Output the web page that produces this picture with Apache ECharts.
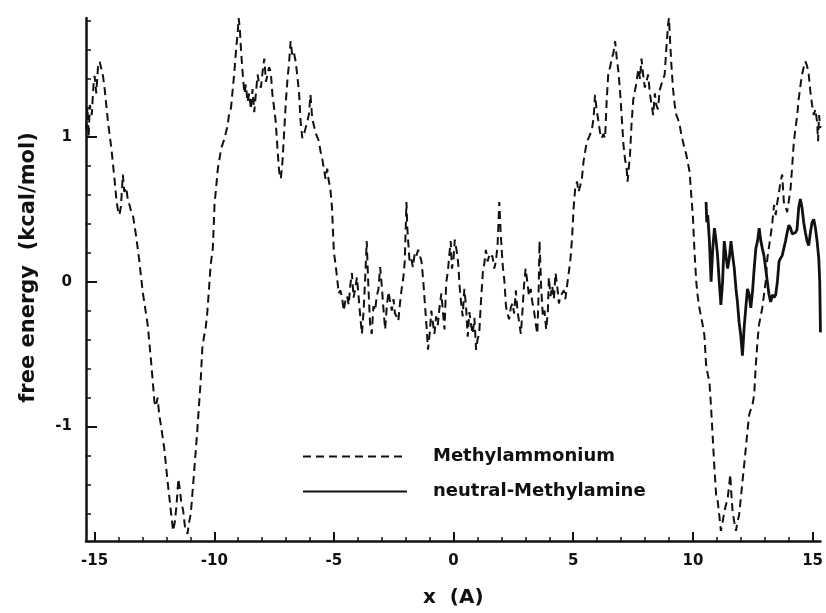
<!DOCTYPE html>
<html>
<head>
<meta charset="utf-8">
<script src="https://cdn.jsdelivr.net/npm/echarts@6/dist/echarts.min.js"></script>
<style>
  html, body { margin: 0; padding: 0; background: #ffffff; }
  #chart { width: 826px; height: 613px; }
</style>
</head>
<body>
<div id="chart"></div>
<script>
// Free energy profile along the channel axis
const methylX = [
  -15.36, -15.30, -15.25, -15.20, -15.12, -15.05, -15.00, -14.93, -14.86, -14.79,
  -14.72, -14.65, -14.58, -14.44, -14.30, -14.17, -14.08, -14.03, -13.96, -13.90,
  -13.82, -13.76, -13.68, -13.60, -13.54, -13.47, -13.40, -13.27, -13.13, -12.99,
  -12.78, -12.64, -12.50, -12.43, -12.37, -12.30, -12.23, -12.09, -11.95, -11.81,
  -11.72, -11.65, -11.58, -11.50, -11.45, -11.38, -11.30, -11.22, -11.12, -11.05,
  -10.98, -10.85, -10.71, -10.57, -10.50, -10.43, -10.36, -10.30, -10.22, -10.15,
  -10.06, -9.99, -9.85, -9.71, -9.57, -9.44, -9.38, -9.30, -9.16, -9.08,
  -9.02, -8.98, -8.93, -8.88, -8.81, -8.74, -8.68, -8.61, -8.54, -8.47,
  -8.40, -8.33, -8.26, -8.19, -8.12, -8.05, -7.98, -7.91, -7.84, -7.78,
  -7.71, -7.64, -7.57, -7.50, -7.43, -7.36, -7.29, -7.22, -7.15, -7.08,
  -7.01, -6.94, -6.88, -6.81, -6.74, -6.67, -6.60, -6.53, -6.46, -6.39,
  -6.32, -6.25, -6.19, -6.12, -6.05, -5.98, -5.91, -5.84, -5.77, -5.70,
  -5.63, -5.56, -5.49, -5.42, -5.35, -5.28, -5.22, -5.15, -5.08, -5.04,
  -5.00, -4.94, -4.87, -4.80, -4.73, -4.66, -4.59, -4.52, -4.45, -4.38,
  -4.32, -4.25, -4.18, -4.11, -4.04, -3.97, -3.90, -3.83, -3.76, -3.70,
  -3.63, -3.56, -3.49, -3.42, -3.35, -3.28, -3.21, -3.14, -3.07, -3.00,
  -2.93, -2.86, -2.79, -2.72, -2.65, -2.58, -2.51, -2.45, -2.38, -2.31,
  -2.24, -2.17, -2.10, -2.04, -1.97, -1.93, -1.89, -1.84, -1.77, -1.70,
  -1.62, -1.55, -1.48, -1.41, -1.34, -1.27, -1.20, -1.13, -1.07, -1.00,
  -0.93, -0.87, -0.80, -0.73, -0.66, -0.59, -0.51, -0.45, -0.38, -0.31,
  -0.24, -0.17, -0.12, -0.07, 0.00, 0.05, 0.11, 0.16, 0.20, 0.25,
  0.31, 0.38, 0.45, 0.52, 0.59, 0.66, 0.73, 0.80, 0.87, 0.94,
  1.00, 1.07, 1.14, 1.22, 1.28, 1.35, 1.42, 1.49, 1.55, 1.62,
  1.70, 1.77, 1.84, 1.91, 1.96, 2.01, 2.06, 2.12, 2.19, 2.25,
  2.32, 2.39, 2.46, 2.53, 2.60, 2.67, 2.74, 2.81, 2.88, 2.94,
  3.01, 3.08, 3.15, 3.22, 3.29, 3.36, 3.43, 3.50, 3.55, 3.59,
  3.66, 3.73, 3.80, 3.87, 3.94, 3.98, 4.05, 4.12, 4.19, 4.26,
  4.33, 4.40, 4.47, 4.54, 4.61, 4.67, 4.74, 4.81, 4.88, 4.95,
  5.02, 5.09, 5.16, 5.22, 5.29, 5.36, 5.43, 5.50, 5.57, 5.64,
  5.71, 5.78, 5.85, 5.91, 5.98, 6.05, 6.12, 6.19, 6.26, 6.33,
  6.40, 6.47, 6.54, 6.61, 6.68, 6.75, 6.82, 6.88, 6.95, 7.02,
  7.10, 7.16, 7.23, 7.27, 7.33, 7.37, 7.44, 7.51, 7.58, 7.65,
  7.72, 7.79, 7.85, 7.92, 7.99, 8.06, 8.13, 8.20, 8.27, 8.34,
  8.41, 8.47, 8.54, 8.61, 8.68, 8.75, 8.82, 8.89, 8.96, 9.00,
  9.05, 9.10, 9.17, 9.24, 9.31, 9.38, 9.45, 9.51, 9.58, 9.65,
  9.72, 9.79, 9.86, 9.93, 10.00, 10.06, 10.14, 10.20, 10.27, 10.34,
  10.41, 10.48, 10.55, 10.62, 10.69, 10.76, 10.83, 10.90, 10.97, 11.04,
  11.10, 11.17, 11.24, 11.31, 11.38, 11.45, 11.52, 11.56, 11.60, 11.66,
  11.73, 11.80, 11.86, 11.93, 12.00, 12.07, 12.14, 12.21, 12.28, 12.35,
  12.42, 12.49, 12.56, 12.63, 12.70, 12.76, 12.83, 12.90, 12.97, 13.04,
  13.11, 13.18, 13.25, 13.32, 13.39, 13.46, 13.53, 13.60, 13.66, 13.73,
  13.80, 13.87, 13.94, 14.01, 14.08, 14.15, 14.22, 14.29, 14.36, 14.42,
  14.49, 14.56, 14.63, 14.70, 14.77, 14.84, 14.91, 14.98, 15.05, 15.12,
  15.19, 15.23, 15.27, 15.33
];
const methylY = [
  1.05, 1.20, 1.00, 1.22, 1.15, 1.35, 1.42, 1.30, 1.48, 1.52,
  1.47, 1.42, 1.33, 1.10, 0.92, 0.71, 0.55, 0.50, 0.46, 0.52,
  0.74, 0.62, 0.65, 0.55, 0.53, 0.48, 0.46, 0.32, 0.14, -0.07,
  -0.30, -0.55, -0.83, -0.86, -0.80, -0.92, -0.99, -1.15, -1.38, -1.59,
  -1.72, -1.66, -1.55, -1.36, -1.42, -1.52, -1.58, -1.70, -1.74, -1.66,
  -1.60, -1.33, -1.03, -0.69, -0.46, -0.38, -0.32, -0.23, -0.05, 0.12,
  0.23, 0.53, 0.78, 0.92, 0.99, 1.08, 1.16, 1.20, 1.45, 1.62,
  1.72, 1.82, 1.74, 1.59, 1.43, 1.30, 1.36, 1.24, 1.30, 1.19,
  1.33, 1.17, 1.30, 1.43, 1.36, 1.34, 1.45, 1.54, 1.38, 1.38,
  1.48, 1.45, 1.29, 1.20, 1.10, 0.92, 0.76, 0.71, 0.83, 1.03,
  1.24, 1.40, 1.50, 1.66, 1.56, 1.58, 1.52, 1.42, 1.31, 1.10,
  0.99, 1.02, 1.03, 1.10, 1.15, 1.29, 1.13, 1.08, 1.03, 1.00,
  0.97, 0.90, 0.85, 0.78, 0.71, 0.78, 0.70, 0.64, 0.51, 0.35,
  0.20, 0.13, 0.03, -0.08, -0.06, -0.11, -0.20, -0.13, -0.10, -0.16,
  -0.03, 0.06, -0.11, -0.05, 0.03, -0.10, -0.24, -0.36, -0.20, 0.00,
  0.28, -0.04, -0.29, -0.36, -0.17, -0.20, -0.10, -0.05, 0.10, -0.03,
  -0.19, -0.33, -0.17, -0.07, -0.14, -0.20, -0.12, -0.22, -0.24, -0.27,
  -0.15, -0.05, 0.03, 0.14, 0.55, 0.36, 0.26, 0.14, 0.16, 0.10,
  0.20, 0.18, 0.22, 0.23, 0.14, 0.01, -0.15, -0.31, -0.47, -0.36,
  -0.20, -0.28, -0.36, -0.24, -0.30, -0.18, -0.08, -0.20, -0.33, -0.01,
  0.07, 0.20, 0.28, 0.09, 0.16, 0.29, 0.29, 0.18, 0.11, -0.03,
  -0.14, -0.24, -0.05, -0.17, -0.38, -0.21, -0.30, -0.36, -0.25, -0.47,
  -0.40, -0.36, -0.15, 0.06, 0.12, 0.22, 0.14, 0.18, 0.16, 0.18,
  0.09, 0.14, 0.26, 0.55, 0.36, 0.22, 0.10, 0.01, -0.17, -0.22,
  -0.26, -0.18, -0.15, -0.22, -0.06, -0.20, -0.28, -0.36, -0.20, -0.03,
  0.09, 0.00, -0.10, -0.05, -0.14, -0.20, -0.29, -0.36, -0.10, 0.28,
  -0.04, -0.24, -0.20, -0.33, -0.20, 0.03, -0.10, -0.03, -0.12, 0.06,
  -0.03, -0.15, -0.10, -0.11, -0.06, -0.12, -0.03, 0.06, 0.15, 0.30,
  0.52, 0.66, 0.69, 0.62, 0.66, 0.71, 0.83, 0.90, 0.97, 0.99,
  1.00, 1.05, 1.13, 1.29, 1.18, 1.11, 1.03, 0.99, 1.02, 0.99,
  1.26, 1.45, 1.48, 1.54, 1.58, 1.66, 1.54, 1.46, 1.33, 1.15,
  0.94, 0.85, 0.78, 0.69, 0.80, 0.87, 1.10, 1.26, 1.32, 1.38,
  1.47, 1.40, 1.54, 1.43, 1.34, 1.38, 1.43, 1.30, 1.29, 1.15,
  1.30, 1.22, 1.19, 1.32, 1.36, 1.35, 1.43, 1.61, 1.77, 1.82,
  1.65, 1.50, 1.33, 1.22, 1.15, 1.12, 1.08, 1.02, 0.97, 0.92,
  0.88, 0.82, 0.76, 0.60, 0.45, 0.23, 0.00, -0.10, -0.18, -0.24,
  -0.30, -0.37, -0.57, -0.64, -0.69, -0.87, -1.08, -1.29, -1.47, -1.52,
  -1.61, -1.72, -1.66, -1.59, -1.54, -1.50, -1.40, -1.33, -1.45, -1.59,
  -1.66, -1.72, -1.66, -1.61, -1.50, -1.38, -1.27, -1.15, -1.03, -0.92,
  -0.88, -0.85, -0.78, -0.57, -0.41, -0.30, -0.24, -0.18, -0.09, 0.00,
  0.16, 0.24, 0.32, 0.41, 0.53, 0.46, 0.55, 0.62, 0.69, 0.74,
  0.55, 0.52, 0.48, 0.56, 0.64, 0.80, 0.97, 1.06, 1.15, 1.26,
  1.35, 1.43, 1.48, 1.52, 1.49, 1.43, 1.31, 1.22, 1.15, 1.19,
  1.10, 0.97, 1.15, 1.06
];

const neutralX = [
  10.55, 10.58, 10.62, 10.69, 10.76, 10.83, 10.90, 10.97, 11.03, 11.10,
  11.17, 11.24, 11.31, 11.38, 11.45, 11.52, 11.59, 11.66, 11.73, 11.80,
  11.86, 11.93, 12.00, 12.07, 12.14, 12.21, 12.28, 12.35, 12.42, 12.49,
  12.56, 12.63, 12.70, 12.77, 12.84, 12.90, 12.97, 13.04, 13.11, 13.18,
  13.25, 13.32, 13.39, 13.46, 13.53, 13.60, 13.66, 13.73, 13.80, 13.87,
  13.94, 14.01, 14.08, 14.15, 14.22, 14.29, 14.35, 14.42, 14.49, 14.56,
  14.63, 14.70, 14.77, 14.84, 14.91, 14.98, 15.05, 15.12, 15.19, 15.26,
  15.30, 15.33
];
const neutralY = [
  0.55, 0.41, 0.46, 0.28, 0.00, 0.23, 0.37, 0.28, 0.18, 0.00,
  -0.16, 0.00, 0.28, 0.18, 0.09, 0.16, 0.28, 0.18, 0.09, -0.05,
  -0.14, -0.28, -0.37, -0.51, -0.32, -0.18, -0.05, -0.09, -0.18, -0.07,
  0.09, 0.23, 0.28, 0.37, 0.28, 0.23, 0.18, 0.09, 0.00, -0.09,
  -0.14, -0.09, -0.11, -0.09, 0.00, 0.14, 0.16, 0.18, 0.23, 0.28,
  0.34, 0.39, 0.37, 0.33, 0.32, 0.34, 0.36, 0.51, 0.57, 0.51,
  0.41, 0.34, 0.28, 0.25, 0.34, 0.41, 0.43, 0.37, 0.28, 0.16,
  0.00, -0.35
];

const xMinorTicks = [-15, -14, -13, -12, -11, -10, -9, -8, -7, -6, -5, -4, -3, -2, -1,
  0, 1, 2, 3, 4, 5, 6, 7, 8, 9, 10, 11, 12, 13, 14, 15];
const xMajorTicks = [-15, -10, -5, 0, 5, 10, 15];
const yMinorTicks = [-1.6, -1.4, -1.2, -1.0, -0.8, -0.6, -0.4, -0.2, 0, 0.2, 0.4, 0.6,
  0.8, 1.0, 1.2, 1.4, 1.6, 1.8];
const yMajorTicks = [-1, 0, 1];

const seriesNames = ['Methylammonium', 'neutral-Methylamine'];

const FONT = 'DejaVu Sans';
const INK = '#111111';

const zip = (xs, ys) => xs.map((x, i) => [x, ys[i]]);

const X_MIN = -15.36, X_MAX = 15.33;
const Y_MIN = -1.79, Y_MAX = 1.82;

const chart = echarts.init(document.getElementById('chart'), null, { renderer: 'canvas' });

chart.setOption({
  backgroundColor: '#ffffff',
  animation: false,
  grid: { left: 86, right: 0, top: 18, bottom: 71 },
  legend: {
    orient: 'vertical',
    left: 302,
    top: 446,
    padding: 0,
    itemWidth: 104,
    itemHeight: 14,
    itemGap: 14,
    selectedMode: false,
    data: seriesNames,
    itemStyle: { opacity: 0 },
    textStyle: {
      fontFamily: FONT, fontWeight: 'bold', fontSize: 18, color: INK,
      lineHeight: 21, padding: [0, 0, 0, 21]
    }
  },
  xAxis: [
    {
      type: 'value', min: X_MIN, max: X_MAX, position: 'bottom',
      axisLine: { onZero: false, lineStyle: { color: INK, width: 2.5 } },
      axisTick: { inside: true, length: 4, customValues: xMinorTicks, lineStyle: { color: INK, width: 1.5 } },
      axisLabel: { show: false },
      splitLine: { show: false },
      name: 'x  (A)', nameLocation: 'middle', nameGap: 47,
      nameTextStyle: { fontFamily: FONT, fontWeight: 'bold', fontSize: 20, color: INK }
    },
    {
      type: 'value', min: X_MIN, max: X_MAX, position: 'bottom',
      axisLine: { show: false, onZero: false },
      axisTick: { inside: true, length: 9, customValues: xMajorTicks, lineStyle: { color: INK, width: 2 } },
      axisLabel: {
        customValues: xMajorTicks, margin: 13,
        fontFamily: FONT, fontWeight: 'bold', fontSize: 15, color: INK
      },
      splitLine: { show: false }
    }
  ],
  yAxis: [
    {
      type: 'value', min: Y_MIN, max: Y_MAX, position: 'left',
      axisLine: { onZero: false, lineStyle: { color: INK, width: 2.5 } },
      axisTick: { inside: true, length: 5, customValues: yMinorTicks, lineStyle: { color: INK, width: 1.5 } },
      axisLabel: { show: false },
      splitLine: { show: false },
      name: 'free energy  (kcal/mol)', nameLocation: 'middle', nameGap: 47,
      nameTextStyle: {
        fontFamily: FONT, fontWeight: 'bold', fontSize: 21, color: INK,
        padding: [0, 0, 0, 24]
      }
    },
    {
      type: 'value', min: Y_MIN, max: Y_MAX, position: 'left',
      axisLine: { show: false, onZero: false },
      axisTick: { inside: true, length: 11, customValues: yMajorTicks, lineStyle: { color: INK, width: 2 } },
      axisLabel: {
        customValues: yMajorTicks, margin: 14,
        fontFamily: FONT, fontWeight: 'bold', fontSize: 15, color: INK
      },
      splitLine: { show: false }
    }
  ],
  series: [
    {
      name: seriesNames[0],
      type: 'line',
      xAxisIndex: 0, yAxisIndex: 0,
      data: zip(methylX, methylY),
      symbol: 'none', showSymbol: false,
      clip: true,
      lineStyle: { color: INK, width: 2, type: [8, 5] },
      itemStyle: { color: INK }
    },
    {
      name: seriesNames[1],
      type: 'line',
      xAxisIndex: 0, yAxisIndex: 0,
      data: zip(neutralX, neutralY),
      symbol: 'none', showSymbol: false,
      clip: true,
      lineStyle: { color: INK, width: 2.8, type: 'solid' },
      itemStyle: { color: INK }
    }
  ]
});
</script>
</body>
</html>
